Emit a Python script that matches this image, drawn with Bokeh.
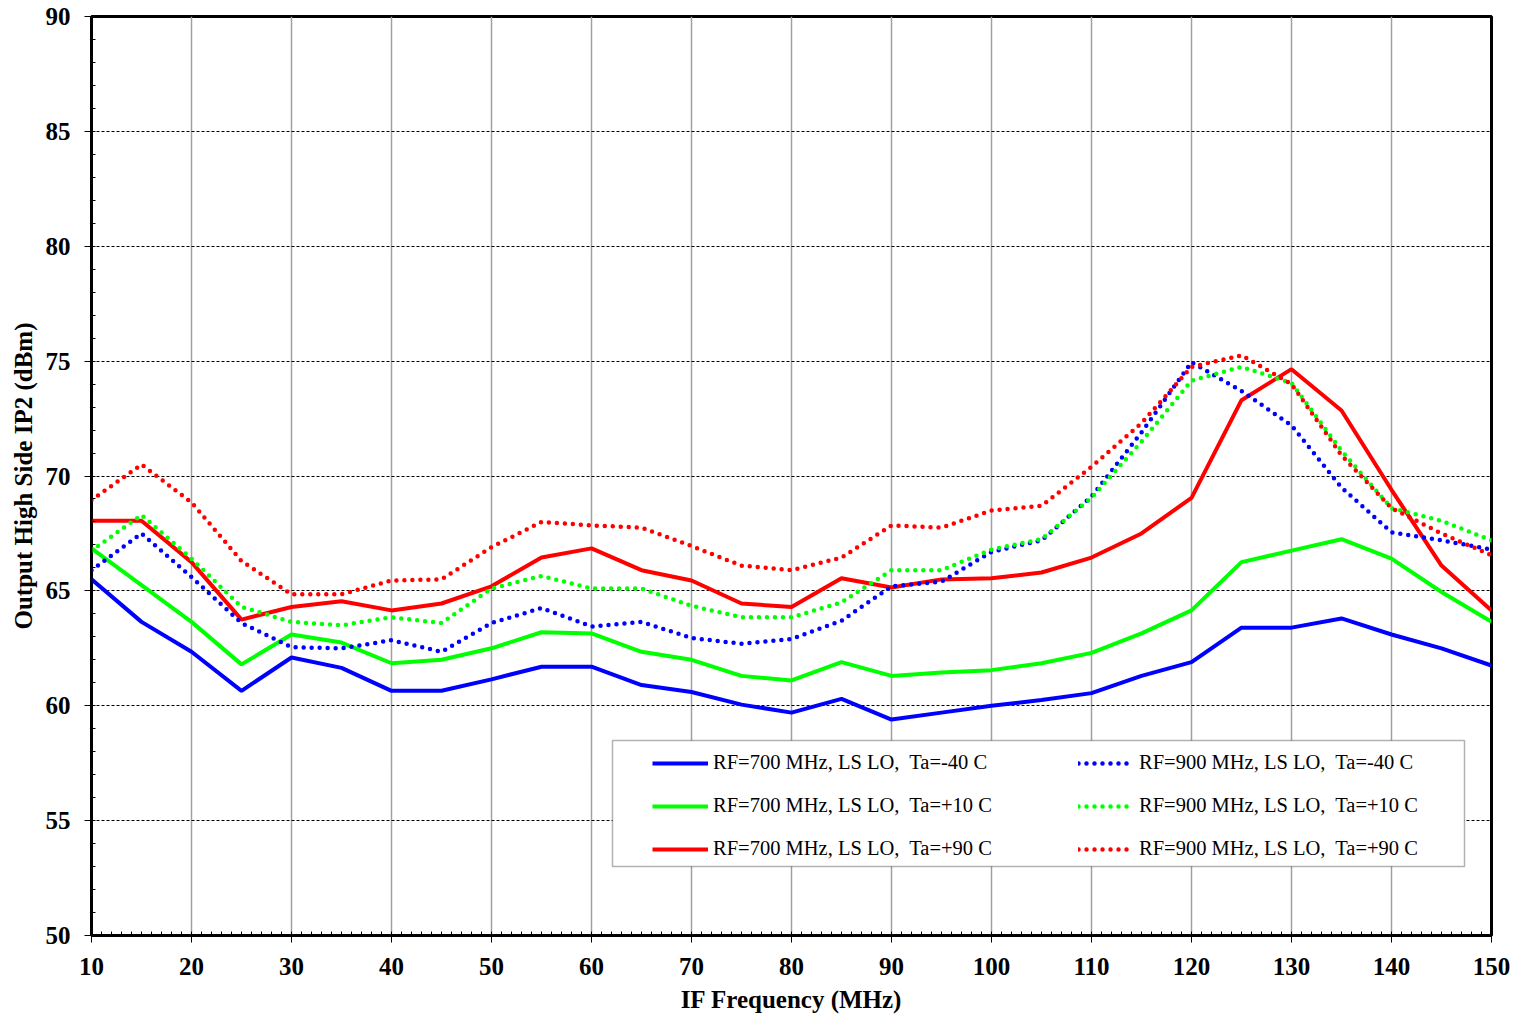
from bokeh.plotting import figure
from bokeh.models import Legend, LegendItem, BoxAnnotation, SingleIntervalTicker, Range1d
from bokeh.embed import file_html
from bokeh.resources import INLINE

freq = [10, 15, 20, 25, 30, 35, 40, 45, 50, 55, 60, 65, 70, 75, 80, 85, 90,
        95, 100, 105, 110, 115, 120, 125, 130, 135, 140, 145, 150]

rf700_m40 = [65.5, 63.65, 62.35, 60.65, 62.1, 61.65, 60.65, 60.65, 61.15, 61.7,
             61.7, 60.9, 60.6, 60.05, 59.7, 60.3, 59.4, 59.7, 60.0, 60.25,
             60.55, 61.3, 61.9, 63.4, 63.4, 63.8, 63.1, 62.5, 61.75]
rf700_p10 = [66.85, 65.25, 63.65, 61.8, 63.1, 62.75, 61.85, 62.0, 62.5, 63.2,
             63.15, 62.35, 62.0, 61.3, 61.1, 61.9, 61.3, 61.45, 61.55, 61.85,
             62.3, 63.15, 64.15, 66.25, 66.75, 67.25, 66.4, 64.95, 63.65]
rf700_p90 = [68.05, 68.05, 66.25, 63.75, 64.3, 64.55, 64.15, 64.45, 65.2, 66.45,
             66.85, 65.9, 65.45, 64.45, 64.3, 65.55, 65.15, 65.5, 65.55, 65.8,
             66.45, 67.5, 69.05, 73.3, 74.65, 72.85, 69.4, 66.1, 64.15]
rf900_m40 = [65.9, 67.5, 65.6, 63.6, 62.55, 62.5, 62.85, 62.35, 63.6, 64.25,
             63.45, 63.65, 62.95, 62.7, 62.9, 63.7, 65.2, 65.4, 66.7, 67.2,
             69.1, 71.9, 74.95, 73.7, 72.2, 69.5, 67.55, 67.2, 66.8]
rf900_p10 = [66.75, 68.3, 66.4, 64.3, 63.65, 63.5, 63.85, 63.6, 65.1, 65.65,
             65.1, 65.1, 64.35, 63.85, 63.85, 64.5, 65.9, 65.9, 66.8, 67.25,
             69.05, 71.5, 74.15, 74.75, 74.05, 71.1, 68.6, 68.05, 67.2]
rf900_p90 = [68.95, 70.5, 68.85, 66.3, 64.85, 64.85, 65.45, 65.5, 66.9, 68.0,
             67.85, 67.75, 66.95, 66.1, 65.9, 66.45, 67.85, 67.75, 68.5, 68.7,
             70.4, 72.3, 74.75, 75.25, 74.0, 70.9, 68.6, 67.5, 66.55]

labels700 = ["RF=700 MHz, LS LO,  Ta=-40 C", "RF=700 MHz, LS LO,  Ta=+10 C",
             "RF=700 MHz, LS LO,  Ta=+90 C"]
labels900 = ["RF=900 MHz, LS LO,  Ta=-40 C", "RF=900 MHz, LS LO,  Ta=+10 C",
             "RF=900 MHz, LS LO,  Ta=+90 C"]
colors = ["#0000FF", "#00FF00", "#FF0000"]

SERIF = "Liberation Serif"

p = figure(frame_width=1400, frame_height=919,
           x_range=Range1d(10, 150), y_range=Range1d(50, 90),
           output_backend="svg", toolbar_location=None,
           min_border_left=91, min_border_right=27,
           min_border_top=16, min_border_bottom=79,
           background_fill_color="white", border_fill_color="white")

p.outline_line_color = "black"
p.outline_line_width = 3

# axes
p.xaxis.ticker = SingleIntervalTicker(interval=10, num_minor_ticks=10)
p.yaxis.ticker = SingleIntervalTicker(interval=5, num_minor_ticks=5)
for ax in (p.xaxis[0], p.yaxis[0]):
    ax.axis_line_color = "black"
    ax.axis_line_width = 2
    ax.major_tick_out = 7
    ax.major_tick_in = 0
    ax.minor_tick_in = 4
    ax.minor_tick_out = 0
    ax.major_tick_line_color = "black"
    ax.minor_tick_line_color = "black"
    ax.major_label_text_font = SERIF
    ax.major_label_text_font_style = "bold"
    ax.major_label_text_font_size = "25px"
    ax.major_label_text_color = "black"
    ax.axis_label_text_font = SERIF
    ax.axis_label_text_font_style = "bold"
    ax.axis_label_text_font_size = "25px"
    ax.axis_label_text_color = "black"

p.xaxis.axis_label = "IF Frequency (MHz)"
p.yaxis.axis_label = "Output High Side IP2 (dBm)"
p.xaxis.major_label_standoff = 15
p.xaxis.axis_label_standoff = 8
p.yaxis.major_label_standoff = 14
p.yaxis.axis_label_standoff = 6

# grids
p.xgrid.grid_line_color = "#a0a0a0"
p.xgrid.grid_line_width = 1.5
p.ygrid.grid_line_color = "black"
p.ygrid.grid_line_width = 1
p.ygrid.grid_line_dash = "3 2"

# series
solid_series = [rf700_m40, rf700_p10, rf700_p90]
dotted_series = [rf900_m40, rf900_p10, rf900_p90]

solid_r = []
for ys, c in zip(solid_series, colors):
    solid_r.append(p.line(freq, ys, line_color=c, line_width=4))

dotted_r = []
for ys, c in zip(dotted_series, colors):
    dotted_r.append(p.line(freq, ys, line_color=c, line_width=4.5,
                           line_dash="0 8", line_cap="round"))

# legend box
box = BoxAnnotation(left=521, right=1373, bottom=69, top=195,
                    left_units="screen", right_units="screen",
                    top_units="screen", bottom_units="screen",
                    fill_color="white", fill_alpha=1.0,
                    line_color="black", line_width=1.5)
p.add_layout(box)


def make_legend(items, loc):
    leg = Legend(items=items, location=loc, padding=0, margin=0,
                 spacing=20, glyph_width=56, glyph_height=20, label_height=20,
                 label_standoff=5, border_line_alpha=0,
                 background_fill_alpha=0,
                 label_text_font=SERIF, label_text_font_size="20.5px",
                 label_text_color="black")
    return leg


legA = make_legend([LegendItem(label=l, renderers=[r]) for l, r in zip(labels700, solid_r)], (561, 75))
legB = make_legend([LegendItem(label=l, renderers=[r]) for l, r in zip(labels900, dotted_r)], (987, 75))
p.add_layout(legA)
p.add_layout(legB)

open("out.html", "w").write(file_html(p, INLINE))
